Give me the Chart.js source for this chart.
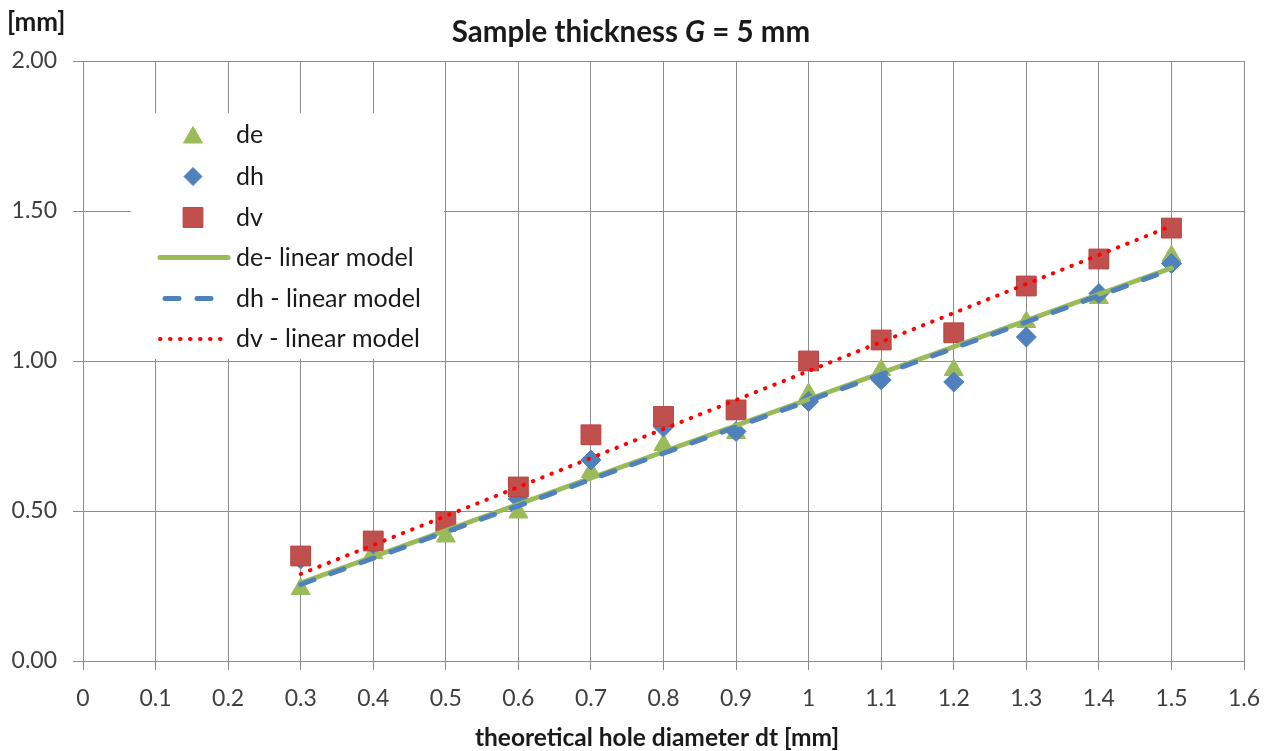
<!DOCTYPE html>
<html>
<head>
<meta charset="utf-8">
<script src="https://cdn.jsdelivr.net/npm/chart.js@4"></script>
<style>
html,body{margin:0;padding:0;background:#ffffff;}
#wrap{width:1279px;height:751px;position:relative;}
</style>
</head>
<body>
<div id="wrap"><canvas id="c" width="1279" height="751"></canvas></div>
<script>
// ---- data ----
const dtValues = [0.3, 0.4, 0.5, 0.6, 0.7, 0.8, 0.9, 1.0, 1.1, 1.2, 1.3, 1.4, 1.5];
const deValues = [0.24, 0.36, 0.415, 0.495, 0.63, 0.72, 0.76, 0.89, 0.97, 0.97, 1.13, 1.21, 1.35];
const dhValues = [0.34, 0.39, 0.46, 0.54, 0.67, 0.78, 0.765, 0.865, 0.937, 0.93, 1.08, 1.225, 1.325];
const dvValues = [0.35, 0.40, 0.465, 0.58, 0.754, 0.815, 0.837, 1.00, 1.07, 1.094, 1.25, 1.34, 1.443];
const fitX = [0.3, 1.5];
const deFit = [0.26, 1.31];
const dhFit = [0.255, 1.305];
const dvFit = [0.29, 1.45];
const seriesNames = ['de', 'dh', 'dv', 'de- linear model', 'dh - linear model', 'dv - linear model'];
const xTicks = [0, 0.1, 0.2, 0.3, 0.4, 0.5, 0.6, 0.7, 0.8, 0.9, 1.0, 1.1, 1.2, 1.3, 1.4, 1.5, 1.6];
const yTicks = [0, 0.5, 1.0, 1.5, 2.0];

const FONT = 'Lato, Carlito, Calibri, "Open Sans", sans-serif';
const GREEN = '#9bbb59', BLUE = '#4f81bd', RED = '#c0504d', DOTRED = '#ff0000';
const GRID = '#8c8c8c';

const pts = (xs, ys) => xs.map((x, i) => ({x: x, y: ys[i]}));

const datasets = [
  {label: seriesNames[0], data: pts(dtValues, deValues), showLine: false, pointStyle: 'triangle',
   pointRadius: 11, pointBackgroundColor: GREEN, pointBorderColor: GREEN, pointBorderWidth: 1, order: 5},
  {label: seriesNames[1], data: pts(dtValues, dhValues), showLine: false, pointStyle: 'rectRot',
   pointRadius: 10, pointBackgroundColor: BLUE, pointBorderColor: BLUE, pointBorderWidth: 1, order: 4},
  {label: seriesNames[2], data: pts(dtValues, dvValues), showLine: false, pointStyle: 'rect',
   pointRadius: 14, pointBackgroundColor: RED, pointBorderColor: '#b9413e', pointBorderWidth: 1, order: 3},
  {label: seriesNames[3], data: pts(fitX, deFit), showLine: true, pointRadius: 0, borderColor: GREEN,
   borderWidth: 5, borderCapStyle: 'round', order: 2},
  {label: seriesNames[4], data: pts(fitX, dhFit), showLine: true, pointRadius: 0, borderColor: BLUE,
   borderWidth: 5, borderCapStyle: 'round', borderDash: [14, 18], order: 1},
  {label: seriesNames[5], data: pts(fitX, dvFit), showLine: true, pointRadius: 0, borderColor: DOTRED,
   borderWidth: 4, borderCapStyle: 'round', borderDash: [0.5, 9.5], order: 0}
];

const textPlugin = {
  id: 'texts',
  afterDraw(chart) {
    const ctx = chart.ctx;
    ctx.save();
    ctx.textBaseline = 'middle';
    ctx.fillStyle = '#1a1a1a';
    // title with italic G
    const TS = 'bold 29.5px ' + FONT;
    const parts = [['Sample thickness ', TS], ['G', 'italic ' + TS], [' = 5 mm', TS]];
    let total = 0;
    parts.forEach(p => { ctx.font = p[1]; total += ctx.measureText(p[0]).width; });
    let x = 631 - total / 2;
    ctx.textAlign = 'left';
    parts.forEach(p => { ctx.font = p[1]; ctx.fillText(p[0], x, 32); x += ctx.measureText(p[0]).width; });
    // y unit label
    ctx.font = 'bold 26px ' + FONT;
    ctx.fillText('[mm]', 7, 23);
    // x axis title
    ctx.textAlign = 'center';
    ctx.font = 'bold 24.5px ' + FONT;
    ctx.fillText('theoretical hole diameter dt [mm]', 657, 738);

    // legend box
    ctx.fillStyle = '#ffffff';
    ctx.fillRect(131, 113, 313, 246);
    const rows = [135, 176.5, 217.5, 257.5, 298.5, 339];
    const H = Chart.helpers;
    for (let i = 0; i < 3; i++) {
      const ds = chart.data.datasets[i];
      ctx.fillStyle = ds.pointBackgroundColor;
      ctx.strokeStyle = ds.pointBorderColor;
      ctx.lineWidth = 1;
      const yOff = ds.pointStyle === 'triangle' ? 2.5 : 0;
      H.drawPoint(ctx, {pointStyle: ds.pointStyle, radius: ds.pointRadius - (i === 1 ? 1 : 0), rotation: 0, borderWidth: 1}, 193, rows[i] + yOff);
    }
    for (let i = 3; i < 6; i++) {
      const ds = chart.data.datasets[i];
      ctx.beginPath();
      ctx.strokeStyle = ds.borderColor;
      ctx.lineWidth = ds.borderWidth;
      ctx.lineCap = 'round';
      ctx.setLineDash(ds.borderDash || []);
      ctx.moveTo(i === 4 ? 165 : 160, rows[i]);
      ctx.lineTo(228, rows[i]);
      ctx.stroke();
      ctx.setLineDash([]);
    }
    ctx.fillStyle = '#1a1a1a';
    ctx.textAlign = 'left';
    ctx.font = '25px ' + FONT;
    for (let i = 0; i < 6; i++) ctx.fillText(seriesNames[i], 236, rows[i]);
    ctx.restore();
  }
};

new Chart(document.getElementById('c'), {
  type: 'scatter',
  data: {datasets: datasets},
  plugins: [textPlugin],
  options: {
    responsive: false,
    animation: false,
    devicePixelRatio: 1,
    layout: {padding: {top: 61, right: 35, left: 0, bottom: 0}},
    plugins: {legend: {display: false}, title: {display: false}, tooltip: {enabled: false}},
    scales: {
      x: {
        type: 'linear', min: xTicks[0], max: xTicks[xTicks.length - 1],
        afterBuildTicks: s => { s.ticks = xTicks.map(v => ({value: v})); },
        afterFit: s => { s.height = 90; },
        grid: {color: GRID, lineWidth: 1, tickLength: 9, drawTicks: true},
        border: {color: GRID, width: 1},
        ticks: {color: '#404040', font: {family: FONT, size: 23}, padding: 15,
                maxRotation: 0, autoSkip: false, callback: v => String(+v.toFixed(1))}
      },
      y: {
        type: 'linear', min: yTicks[0], max: yTicks[yTicks.length - 1],
        afterBuildTicks: s => { s.ticks = yTicks.map(v => ({value: v})); },
        afterFit: s => { s.width = 83; },
        grid: {color: GRID, lineWidth: 1, tickLength: 10, drawTicks: true},
        border: {color: GRID, width: 1},
        ticks: {color: '#404040', font: {family: FONT, size: 23}, padding: 16,
                callback: v => v.toFixed(2)}
      }
    }
  }
});
</script>
</body>
</html>
